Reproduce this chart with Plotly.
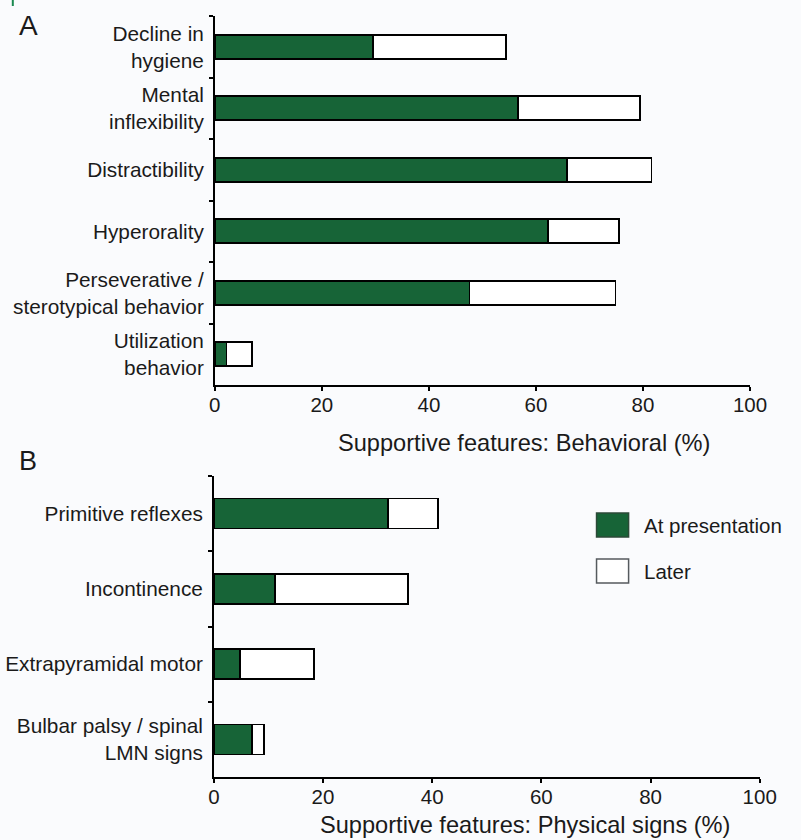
import plotly.graph_objects as go

# Panel A: behavioral supportive features (%)
cats_a = ["Decline in<br>hygiene", "Mental<br>inflexibility", "Distractibility",
          "Hyperorality", "Perseverative /<br>sterotypical behavior", "Utilization<br>behavior"]
pres_a = [29.5, 56.7, 65.8, 62.2, 47.6, 2.2]
later_a = [24.9, 22.8, 15.8, 13.3, 27.3, 4.7]

# Panel B: physical signs (%)
cats_b = ["Primitive reflexes", "Incontinence", "Extrapyramidal motor",
          "Bulbar palsy / spinal<br>LMN signs"]
pres_b = [31.9, 11.2, 4.8, 7.0]
later_b = [9.2, 24.4, 13.5, 2.2]

x_ticks = [0, 20, 40, 60, 80, 100]
series_names = ["At presentation", "Later"]

GREEN = "#176437"
FONT = "Liberation Sans, Arial, sans-serif"
W, H = 801, 840

fig = go.Figure()
line = dict(color="black", width=1.6)
fig.add_trace(go.Bar(y=cats_a, x=pres_a, orientation="h", marker=dict(color=GREEN, line=line),
                     width=0.39, xaxis="x", yaxis="y", name=series_names[0], showlegend=False))
fig.add_trace(go.Bar(y=cats_a, x=later_a, orientation="h", marker=dict(color="white", line=line),
                     width=0.39, xaxis="x", yaxis="y", name=series_names[1], showlegend=False))
fig.add_trace(go.Bar(y=cats_b, x=pres_b, orientation="h", marker=dict(color=GREEN, line=line),
                     width=0.40, xaxis="x2", yaxis="y2", name=series_names[0], showlegend=False))
fig.add_trace(go.Bar(y=cats_b, x=later_b, orientation="h", marker=dict(color="white", line=line),
                     width=0.40, xaxis="x2", yaxis="y2", name=series_names[1], showlegend=False))

tickfont = dict(family=FONT, size=20.8, color="#1a1a1a")

def xax(domain, anchor):
    return dict(domain=domain, anchor=anchor, range=[0, 100], tickvals=x_ticks,
                showgrid=False, zeroline=False, showline=True, linecolor="black", linewidth=1.6,
                ticks="outside", ticklen=4, tickwidth=1.5, tickcolor="black",
                tickfont=dict(family=FONT, size=20.5, color="#1a1a1a"), ticklabelstandoff=-3)

def yax(domain, anchor, cats):
    return dict(domain=domain, anchor=anchor, categoryorder="array", categoryarray=cats,
                range=[len(cats) - 0.5, -0.5], showgrid=False, zeroline=False,
                showline=True, linecolor="black", linewidth=1.6,
                ticks="outside", ticklen=4, tickwidth=1.5, tickcolor="black",
                tickson="boundaries", tickfont=tickfont, ticklabelstandoff=5)

fig.update_layout(
    width=W, height=H, margin=dict(l=0, r=0, t=0, b=0),
    paper_bgcolor="#fafbfd", plot_bgcolor="#fafbfd",
    barmode="stack", bargap=0.6,
    xaxis=xax([215 / W, 766 / W], "y"),
    yaxis=yax([1 - 385 / H, 1 - 16 / H], "x", cats_a),
    xaxis2=xax([214 / W, 776 / W], "y2"),
    yaxis2=yax([1 - 777 / H, 1 - 476 / H], "x2", cats_b),
    font=dict(family=FONT, color="#1a1a1a"),
)

def ann(text, x, y, size, xanchor="center"):
    fig.add_annotation(text=text, x=x / W, y=1 - y / H, xref="paper", yref="paper",
                       showarrow=False, xanchor=xanchor, yanchor="middle",
                       font=dict(family=FONT, size=size, color="#1a1a1a"))

ann("Supportive features: Behavioral (%)", 533, 443, 23.6)
ann("Supportive features: Physical signs (%)", 534, 825, 23.6)
ann("A", 11, 25, 28, "left")
ann("B", 11, 461, 27, "left")

# legend
fig.add_shape(type="rect", xref="paper", yref="paper", x0=608 / W, x1=641 / W,
              y0=1 - 537 / H, y1=1 - 513 / H, fillcolor=GREEN, line=dict(color="#2c4a38", width=1.5))
fig.add_shape(type="rect", xref="paper", yref="paper", x0=608 / W, x1=641 / W,
              y0=1 - 583 / H, y1=1 - 559 / H, fillcolor="white", line=dict(color="#555a5e", width=1.5))
ann(series_names[0], 655, 525, 20.5, "left")
ann(series_names[1], 655, 571, 20.5, "left")

# small green mark at top-left corner
fig.add_shape(type="line", xref="paper", yref="paper", x0=7 / W, x1=7 / W, y0=1, y1=1 - 6 / H,
              line=dict(color="#1a8a50", width=2))

fig.write_html("out.html", config={"displayModeBar": False},
               post_script="document.body.style.margin='0';document.body.style.overflow='hidden';")
